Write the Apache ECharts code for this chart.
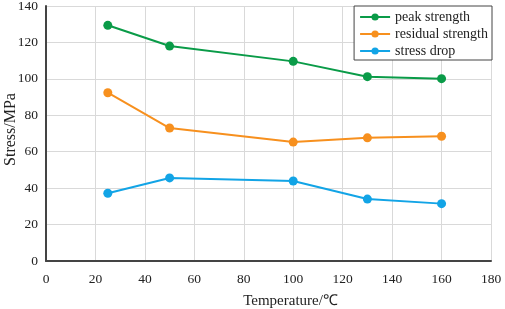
<!DOCTYPE html>
<html>
<head>
<meta charset="utf-8">
<script src="https://cdn.jsdelivr.net/npm/echarts@6/dist/echarts.min.js"></script>
<style>
  html, body { margin: 0; padding: 0; background: #fff; }
  #chart { width: 505px; height: 309px; }
</style>
</head>
<body>
<div id="chart"></div>
<script>
// temperature (℃) and stresses (MPa)
const temperatures = [25, 50, 100, 130, 160];
const peakStrength = [129.4, 118.0, 109.6, 101.2, 100.1];
const residualStrength = [92.4, 73.0, 65.3, 67.6, 68.5];
const stressDrop = [37.2, 45.6, 43.9, 34.0, 31.5];

const seriesNames = ["peak strength", "residual strength", "stress drop"];
const seriesColors = ["#0a9b48", "#f7901e", "#12a4e6"];

function pairs(values) {
  return temperatures.map((t, i) => [t, values[i]]);
}

const font = "Liberation Serif";
const chart = echarts.init(document.getElementById("chart"));

const series = [peakStrength, residualStrength, stressDrop].map((vals, i) => ({
  name: seriesNames[i],
  type: "line",
  data: pairs(vals),
  symbol: "circle",
  symbolSize: 9,
  lineStyle: { width: 2, color: seriesColors[i] },
  itemStyle: { color: seriesColors[i] },
}));

const option = {
  animation: false,
  textStyle: { fontFamily: font },
  grid: { left: 46, right: 14, top: 6, bottom: 48, outerBoundsMode: "none", containLabel: false },
  legend: {
    orient: "vertical",
    right: 13,
    top: 6,
    padding: [4, 4, 2, 5],
    itemGap: 3,
    itemWidth: 30,
    itemHeight: 9,
    borderColor: "#444",
    borderWidth: 1,
    backgroundColor: "#fff",
    textStyle: { fontFamily: font, fontSize: 14, color: "#222" },
  },
  xAxis: {
    type: "value",
    min: 0,
    max: 180,
    interval: 20,
    name: "Temperature/℃",
    nameLocation: "middle",
    nameGap: 33,
    nameMoveOverlap: false,
    nameTextStyle: { fontFamily: font, fontSize: 15, color: "#222", padding: [0, 0, 0, 44] },
    axisLine: { show: true, lineStyle: { color: "#444", width: 2 } },
    axisTick: { show: false },
    axisLabel: { fontFamily: font, fontSize: 13.5, color: "#222", margin: 11 },
    splitLine: { show: true, lineStyle: { color: "#d9d9d9", width: 1 } },
  },
  yAxis: {
    type: "value",
    min: 0,
    max: 140,
    interval: 20,
    name: "Stress/MPa",
    nameLocation: "middle",
    nameGap: 27,
    nameMoveOverlap: false,
    nameTextStyle: { fontFamily: font, fontSize: 16, color: "#222", padding: [0, 0, 0, 8] },
    axisLine: { show: true, lineStyle: { color: "#444", width: 2 } },
    axisTick: { show: false },
    axisLabel: { fontFamily: font, fontSize: 13.5, color: "#222", margin: 8 },
    splitLine: { show: true, lineStyle: { color: "#d9d9d9", width: 1 } },
  },
  series: series,
};

chart.setOption(option);
</script>
</body>
</html>
